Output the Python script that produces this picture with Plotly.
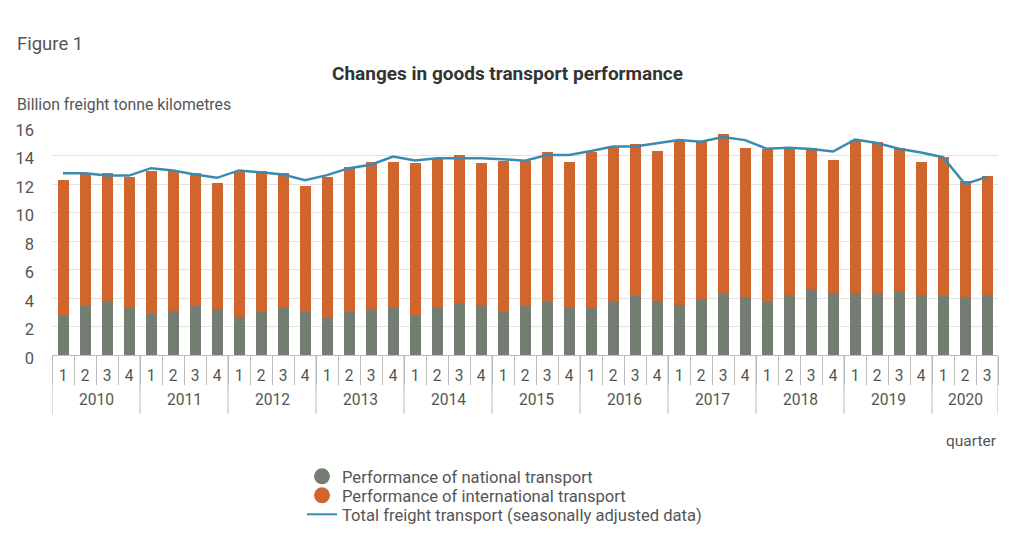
import plotly.graph_objects as go

years = ["2010"]*4 + ["2011"]*4 + ["2012"]*4 + ["2013"]*4 + ["2014"]*4 + ["2015"]*4 + ["2016"]*4 + ["2017"]*4 + ["2018"]*4 + ["2019"]*4 + ["2020"]*3
quarters = ["1","2","3","4"]*10 + ["1","2","3"]

national = [2.76,3.46,3.79,3.37, 2.88,3.11,3.46,3.23, 2.69,3.04,3.27,3.04, 2.62,3.04,3.23,3.37,
            2.76,3.27,3.63,3.53, 3.11,3.46,3.70,3.37, 3.27,3.79,4.12,3.79, 3.53,3.95,4.37,4.05,
            3.70,4.21,4.63,4.37, 4.37,4.37,4.47,4.21, 4.12,4.05,4.21]
total_bar = [12.30,12.72,12.80,12.47, 12.89,12.94,12.80,12.07, 12.84,12.89,12.80,11.88, 12.47,13.22,13.57,13.57,
             13.47,13.80,14.06,13.47, 13.64,13.64,14.22,13.57, 14.22,14.71,14.81,14.32, 15.06,14.97,15.49,14.55,
             14.48,14.57,14.55,13.71, 15.13,14.97,14.55,13.57, 13.89,12.19,12.54]
international = [round(t-n,2) for t,n in zip(total_bar,national)]
adjusted = [12.77,12.77,12.60,12.60, 13.12,12.96,12.68,12.44, 12.96,12.80,12.68,12.28, 12.63,13.12,13.36,13.94,
            13.66,13.82,13.82,13.82, 13.75,13.64,14.04,14.04, 14.32,14.64,14.64,14.85, 15.09,14.97,15.30,15.09,
            14.48,14.55,14.46,14.29, 15.13,14.88,14.48,14.22, 13.89,12.00,12.51]

GREY = "#747d71"; ORANGE = "#d1652e"; BLUE = "#3b8bb0"; TXT = "#555555"; FONT = "Roboto"; AXIS = "#bbbbbb"
x = [f"{y} Q{q}" for y, q in zip(years, quarters)]
none = [None]*len(x)

fig = go.Figure()
fig.add_bar(x=x, y=national, marker_color=GREY, marker_line_width=0, showlegend=False)
fig.add_bar(x=x, y=international, marker_color=ORANGE, marker_line_width=0, showlegend=False)
fig.add_scatter(x=x, y=adjusted, mode="lines", line=dict(color=BLUE, width=2.5), showlegend=False)
fig.add_scatter(x=x, y=none, mode="markers", name="Performance of national transport", legend="legend",
                marker=dict(color=GREY, size=16, symbol="circle"))
fig.add_scatter(x=x, y=none, mode="markers", name="Performance of international transport", legend="legend2",
                marker=dict(color=ORANGE, size=16, symbol="circle"))
fig.add_scatter(x=x, y=none, mode="lines", name="Total freight transport (seasonally adjusted data)", legend="legend3",
                line=dict(color=BLUE, width=2))

PH = 228.0
def note(text, px, py, size, anchor="left", color=TXT, bold=False):
    fig.add_annotation(xref="paper", yref="paper", x=(px-52)/946, y=(355.3-py)/PH, text=f"<b>{text}</b>" if bold else text,
                       showarrow=False, xanchor=anchor, yanchor="middle",
                       font=dict(family=FONT, size=size, color=color))

note("Figure 1", 15, 44, 18.5)
note("Changes in goods transport performance", 507, 74, 19, "center", "#333333", True)
note("Billion freight tonne kilometres", 15, 105, 15.8)
note("quarter", 999, 441, 15.5, "right")

# year groups under the quarter labels, placed through the category axis
seen = list(dict.fromkeys(years))
for yr in seen:
    idx = [i for i, v in enumerate(years) if v == yr]
    fig.add_annotation(xref="x", yref="paper", x=sum(idx)/len(idx), y=(355.3-400)/PH, text=yr, showarrow=False,
                       yanchor="middle", font=dict(family=FONT, size=15.6, color=TXT))
    fig.add_shape(type="line", xref="x", yref="paper", x0=idx[0]-0.5, x1=idx[0]-0.5, y0=0, y1=-59/PH,
                  line=dict(color=AXIS, width=1))
fig.add_shape(type="line", xref="x", yref="paper", x0=len(x)-0.5, x1=len(x)-0.5, y0=0, y1=-59/PH,
              line=dict(color=AXIS, width=1))

def row(top):
    return dict(orientation="v", xref="container", yref="container", x=302/1024, y=1-top/547,
                xanchor="left", yanchor="top", font=dict(family=FONT, size=16.6, color=TXT),
                itemwidth=30, bgcolor="rgba(0,0,0,0)")

fig.update_layout(
    width=1024, height=547, autosize=False,
    margin=dict(l=52, r=26, t=127.3, b=191.7, pad=0, autoexpand=False),
    paper_bgcolor="white", plot_bgcolor="white",
    barmode="stack", bargap=0.5,
    font=dict(family=FONT, size=16, color=TXT),
    legend=row(459), legend2=row(478), legend3=row(497),
)
fig.update_xaxes(type="category", categoryorder="array", categoryarray=x, range=[-0.5, len(x)-0.5],
                 tickmode="array", tickvals=x, ticktext=quarters, tickson="boundaries", tickangle=0,
                 showgrid=False, showline=True, linecolor=AXIS, linewidth=1,
                 ticks="outside", ticklen=29, tickcolor=AXIS, tickwidth=1, ticklabelstandoff=6,
                 tickfont=dict(family=FONT, size=15.6, color=TXT), zeroline=False)
fig.update_yaxes(range=[0,16.01], tick0=0, dtick=2, showgrid=True, gridcolor="#e2e2e2", gridwidth=1,
                 zeroline=False, showline=False, ticks="", ticklabelstandoff=17, ticklabelshift=3,
                 tickfont=dict(family=FONT, size=16.5, color=TXT))
fig.write_html("out.html", post_script="document.body.style.margin='0';", config=dict(displayModeBar=False))
